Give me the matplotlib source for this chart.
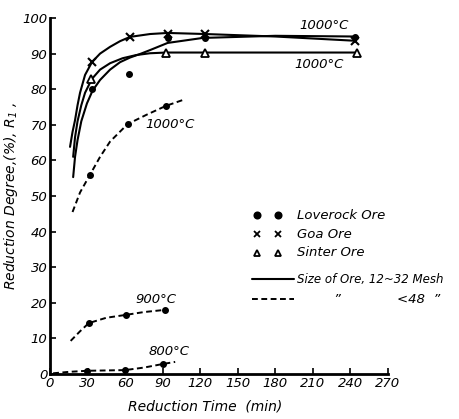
import matplotlib
matplotlib.use("Agg")
import matplotlib.pyplot as plt
from matplotlib.lines import Line2D

plt.rcParams["font.family"] = ["DejaVu Sans"]
plt.rcParams["font.style"] = "italic"

# 12~32 mesh, 1000 C (solid curves)
goa_curve_t = [16, 18, 20, 22, 24, 28, 33.5, 40, 48, 56, 64, 80, 94, 124, 180, 244]
goa_curve_r = [63.8, 68, 71.3, 75.5, 79, 84, 87.6, 90, 91.9, 93.5, 94.7, 95.5, 95.8, 95.5, 94.8, 93.6]
goa_t = [33.5, 64, 94, 124, 244]
goa_r = [87.6, 94.7, 95.6, 95.5, 93.6]

sinter_curve_t = [18.5, 20, 22, 25, 28, 33.5, 40, 48, 58, 69, 80, 93, 124, 245]
sinter_curve_r = [61, 66.5, 71, 75.5, 79, 82.9, 85.5, 87.3, 88.7, 89.6, 90.1, 90.3, 90.3, 90.3]
sinter_t = [33, 93, 124, 245]
sinter_r = [82.9, 90.3, 90.3, 90.3]

love_curve_t = [18.5, 20, 22, 25, 29.5, 34, 40, 48, 56, 64, 72, 80, 94, 122, 180, 244]
love_curve_r = [55.3, 61, 65.7, 71, 76, 79.6, 82.6, 85.5, 87.6, 88.9, 89.9, 91.0, 93.0, 94.4, 95.0, 94.8]
love_t = [33.5, 63, 94, 124, 244]
love_r = [80, 84.3, 94.4, 94.4, 94.8]

# <48 mesh (dashed curves), Loverock ore
d1000_curve_t = [18, 24, 32, 40, 48, 62, 77, 92.5, 108]
d1000_curve_r = [45.5, 51, 56, 61, 65.3, 70.2, 72.8, 75.3, 77.2]
d1000_t = [32, 62, 92.5]
d1000_r = [56, 70.2, 75.3]

d900_curve_t = [16.5, 24, 31, 45, 60.5, 75, 91.5]
d900_curve_r = [9.3, 12, 14.3, 15.8, 16.6, 17.4, 18]
d900_t = [31, 60.5, 91.5]
d900_r = [14.3, 16.6, 18]

d800_curve_t = [2.5, 15, 29.5, 45, 60, 75, 90, 100]
d800_curve_r = [0.2, 0.6, 0.9, 1.0, 1.1, 1.8, 2.8, 3.4]
d800_t = [29.5, 60, 90]
d800_r = [0.9, 1.1, 2.8]

x_ticks = [0, 30, 60, 90, 120, 150, 180, 210, 240, 270]
y_ticks = [0, 10, 20, 30, 40, 50, 60, 70, 80, 90, 100]

fig = plt.figure(figsize=(4.6, 4.19), dpi=100)
ax = fig.add_axes([50 / 460, 45 / 419, 338 / 460, 356 / 419])

solid = dict(color="black", lw=1.5, solid_capstyle="round", solid_joinstyle="round")
dashed = dict(color="black", lw=1.4, linestyle=(0, (3, 1.8)))
dot = dict(ls="none", marker="o", ms=4, color="black")

ax.plot(goa_curve_t, goa_curve_r, **solid)
ax.plot(sinter_curve_t, sinter_curve_r, **solid)
ax.plot(love_curve_t, love_curve_r, **solid)
ax.plot(goa_t, goa_r, ls="none", marker="x", ms=5.5, mew=1.5, color="black")
ax.plot(sinter_t, sinter_r, ls="none", marker="^", ms=5.5, mew=1.3,
        mfc="white", mec="black")
ax.plot(love_t, love_r, **dot)

ax.plot(d1000_curve_t, d1000_curve_r, **dashed)
ax.plot(d900_curve_t, d900_curve_r, **dashed)
ax.plot(d800_curve_t, d800_curve_r, **dashed)
ax.plot(d1000_t, d1000_r, **dot)
ax.plot(d900_t, d900_r, **dot)
ax.plot(d800_t, d800_r, **dot)

lab = dict(fontsize=9.5, ha="center", va="center")
ax.text(219, 97.8, "1000°C", **lab)
ax.text(215, 86.8, "1000°C", **lab)
ax.text(96, 70, "1000°C", **lab)
ax.text(85, 21, "900°C", **lab)
ax.text(95, 6.2, "800°C", **lab)

ax.set_xlim(0, 270)
ax.set_ylim(0, 100)
ax.set_xticks(x_ticks)
ax.set_yticks(y_ticks)
ax.tick_params(direction="in", length=4, width=1.2, labelsize=9.5, pad=2)
for s in ("top", "right"):
    ax.spines[s].set_visible(False)
for s in ("left", "bottom"):
    ax.spines[s].set_linewidth(2)

ax.set_xlabel("Reduction Time  (min)", fontsize=10)
ax.xaxis.set_label_coords(0.46, -0.072)
ax.set_ylabel("Reduction Degree,(%), $R_1$ ,", fontsize=10)
ax.yaxis.set_label_coords(-0.09, 0.5)

# hand-drawn style legend
rows = [("o", "black", "Loverock Ore", 215),
        ("x", "black", "Goa Ore", 234),
        ("^", "white", "Sinter Ore", 253)]
for m, fc, txt, yy in rows:
    for xx in (257, 278):
        fig.add_artist(Line2D([xx / 460], [1 - yy / 419], marker=m, ms=4.5,
                              mfc=fc, mec="black", mew=1.3, color="black",
                              ls="none"))
    fig.text(297 / 460, 1 - yy / 419, txt, fontsize=9.5, va="center")

fig.add_artist(Line2D([252 / 460, 294 / 460], [1 - 279 / 419] * 2, **solid))
fig.text(297 / 460, 1 - 279 / 419, "Size of Ore, 12~32 Mesh", fontsize=8.5,
         va="center")
fig.add_artist(Line2D([252 / 460, 294 / 460], [1 - 299 / 419] * 2, **dashed))
fig.text(337 / 460, 1 - 299 / 419, "\u201d", fontsize=9.5, va="center",
         ha="center")
fig.text(397 / 460, 1 - 299 / 419, "<48  \u201d", fontsize=9.5, va="center")

fig.savefig("out.png", dpi=100)
